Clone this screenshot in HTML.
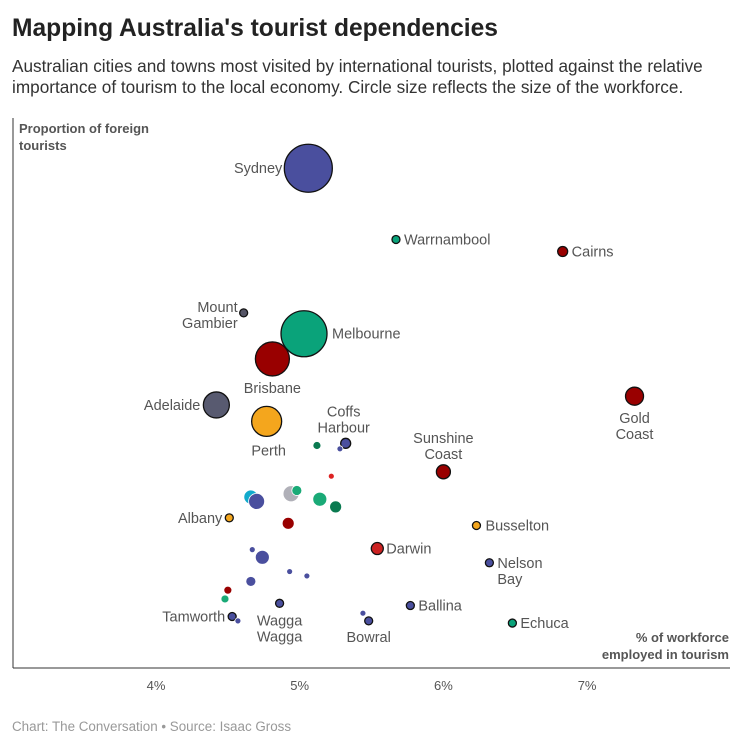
<!DOCTYPE html>
<html><head><meta charset="utf-8"><style>
body{margin:0;background:#fff;font-family:"Liberation Sans",sans-serif;}
svg{display:block}
</style></head><body>
<svg width="754" height="754" xmlns="http://www.w3.org/2000/svg">
<text x="12" y="36" font-size="24.6" font-weight="bold" fill="#222">Mapping Australia's tourist dependencies</text>
<text x="12" y="72" font-size="17.2" fill="#333">Australian cities and towns most visited by international tourists, plotted against the relative</text>
<text x="12" y="93" font-size="17.2" fill="#333">importance of tourism to the local economy. Circle size reflects the size of the workforce.</text>
<line x1="13" y1="118" x2="13" y2="668" stroke="#333"/>
<line x1="13" y1="668" x2="730" y2="668" stroke="#333"/>
<text x="19" y="133" font-size="13" font-weight="bold" fill="#555">Proportion of foreign</text>
<text x="19" y="150" font-size="13" font-weight="bold" fill="#555">tourists</text>
<text x="729" y="642" font-size="13" font-weight="bold" fill="#555" text-anchor="end">% of workforce</text>
<text x="729" y="659" font-size="13" font-weight="bold" fill="#555" text-anchor="end">employed in tourism</text>
<g id="ticks"></g>
<g id="points"></g>
<g id="labels"></g>
<text x="12" y="731" font-size="13.4" fill="#999">Chart: The Conversation • Source: Isaac Gross</text>
</svg>
<script>
const xTicks=[4,5,6,7];
const tickLabels=["4%","5%","6%","7%"];
const names=["Sydney","Warrnambool","Cairns","Mount Gambier","Melbourne","Brisbane","Adelaide","Perth","Gold Coast","Coffs Harbour","Sunshine Coast","Albany","Busselton","Darwin","Nelson Bay","Ballina","Echuca","Tamworth","Wagga Wagga","Bowral","","","","","","","","","","","","","","","","","","",""];
const xVals=[5.06,5.67,6.83,4.61,5.03,4.81,4.42,4.77,7.33,5.32,6.00,4.51,6.23,5.54,6.32,5.77,6.48,4.53,4.86,5.48,5.12,5.28,5.22,4.66,4.70,4.94,4.98,5.14,5.25,4.92,4.67,4.74,4.93,5.05,4.66,4.50,4.48,4.57,5.44];
const yVals=[45.6,39.1,38.0,32.4,30.5,28.2,24.0,22.5,24.8,20.5,17.9,13.7,13.0,10.9,9.6,5.7,4.1,4.7,5.9,4.3,20.3,20.0,17.5,15.6,15.2,15.9,16.2,15.4,14.7,13.2,10.8,10.1,8.8,8.4,7.9,7.1,6.3,4.3,5.0];
const radii=[24,4,5,4,23,17,13,15,9,5,7,4,4,6,4,4,4,4,4,4,4,3,3,7,8,8,5,7,6,6,3,7,3,3,5,4,4,3,3];
const colors=["#4a4f9e","#0aa37a","#990000","#555566","#0aa37a","#990000","#585a70","#f4a61d","#990000","#4a4f9e","#990000","#f4a61d","#f4a61d","#cc2222","#4a4f9e","#4a4f9e","#0aa37a","#4a4f9e","#4a4f9e","#4a4f9e","#0a7a50","#4a4f9e","#dd2222","#11aacc","#4a4f9e","#b0b0b8","#1aaa77","#1aaa77","#0a7a50","#990000","#4a4f9e","#4a4f9e","#4a4f9e","#4a4f9e","#4a4f9e","#990000","#1aaa77","#4a4f9e","#4a4f9e"];
const X=v=>156+(v-4)*143.7;
const Y=v=>668-v*10.96;
const ns="http://www.w3.org/2000/svg";
const tg=document.getElementById('ticks');
xTicks.forEach((t,i)=>{const e=document.createElementNS(ns,'text');e.setAttribute('x',X(t));e.setAttribute('y',690);e.setAttribute('font-size','13');e.setAttribute('fill','#555');e.setAttribute('text-anchor','middle');e.textContent=tickLabels[i];


tg.appendChild(e);});
const pg=document.getElementById('points');
xVals.forEach((x,i)=>{const c=document.createElementNS(ns,'circle');c.setAttribute('cx',X(x));c.setAttribute('cy',Y(yVals[i]));c.setAttribute('r',radii[i]);c.setAttribute('fill',colors[i]);
if(names[i]){c.setAttribute('stroke','#111');c.setAttribute('stroke-width','1.3');}else{c.setAttribute('stroke','#fff');c.setAttribute('stroke-width','0.8');}


pg.appendChild(c);});
const lab={"Sydney":[-26,5,"end"],"Warrnambool":[8,5,"start"],"Cairns":[9,5,"start"],"Mount Gambier":[-6,-1,"end",["Mount","Gambier"]],"Melbourne":[28,5,"start"],"Brisbane":[0,34,"middle"],"Adelaide":[-16,5,"end"],"Perth":[2,34,"middle"],"Gold Coast":[0,27,"middle",["Gold","Coast"]],"Coffs Harbour":[-2,-27,"middle",["Coffs","Harbour"]],"Sunshine Coast":[0,-29,"middle",["Sunshine","Coast"]],"Albany":[-7,5,"end"],"Busselton":[9,5,"start"],"Darwin":[9,5,"start"],"Nelson Bay":[8,5,"start",["Nelson","Bay"]],"Ballina":[8,5,"start"],"Echuca":[8,5,"start"],"Tamworth":[-7,5,"end"],"Wagga Wagga":[0,22,"middle",["Wagga","Wagga"]],"Bowral":[0,21,"middle"]};
const lg=document.getElementById('labels');
names.forEach((n,i)=>{if(!n)return;const o=lab[n];const t=document.createElementNS(ns,'text');const px=X(xVals[i])+o[0],py=Y(yVals[i])+o[1];t.setAttribute('x',px);t.setAttribute('y',py);t.setAttribute('font-size','14.5');t.setAttribute('fill','#555');t.setAttribute('text-anchor',o[2]);
const lines=o[3]||[n];lines.forEach((s,k)=>{const sp=document.createElementNS(ns,'tspan');sp.setAttribute('x',px);sp.setAttribute('dy',k?16:0);sp.textContent=s;t.appendChild(sp);});


lg.appendChild(t);});
</script>
</body></html>
